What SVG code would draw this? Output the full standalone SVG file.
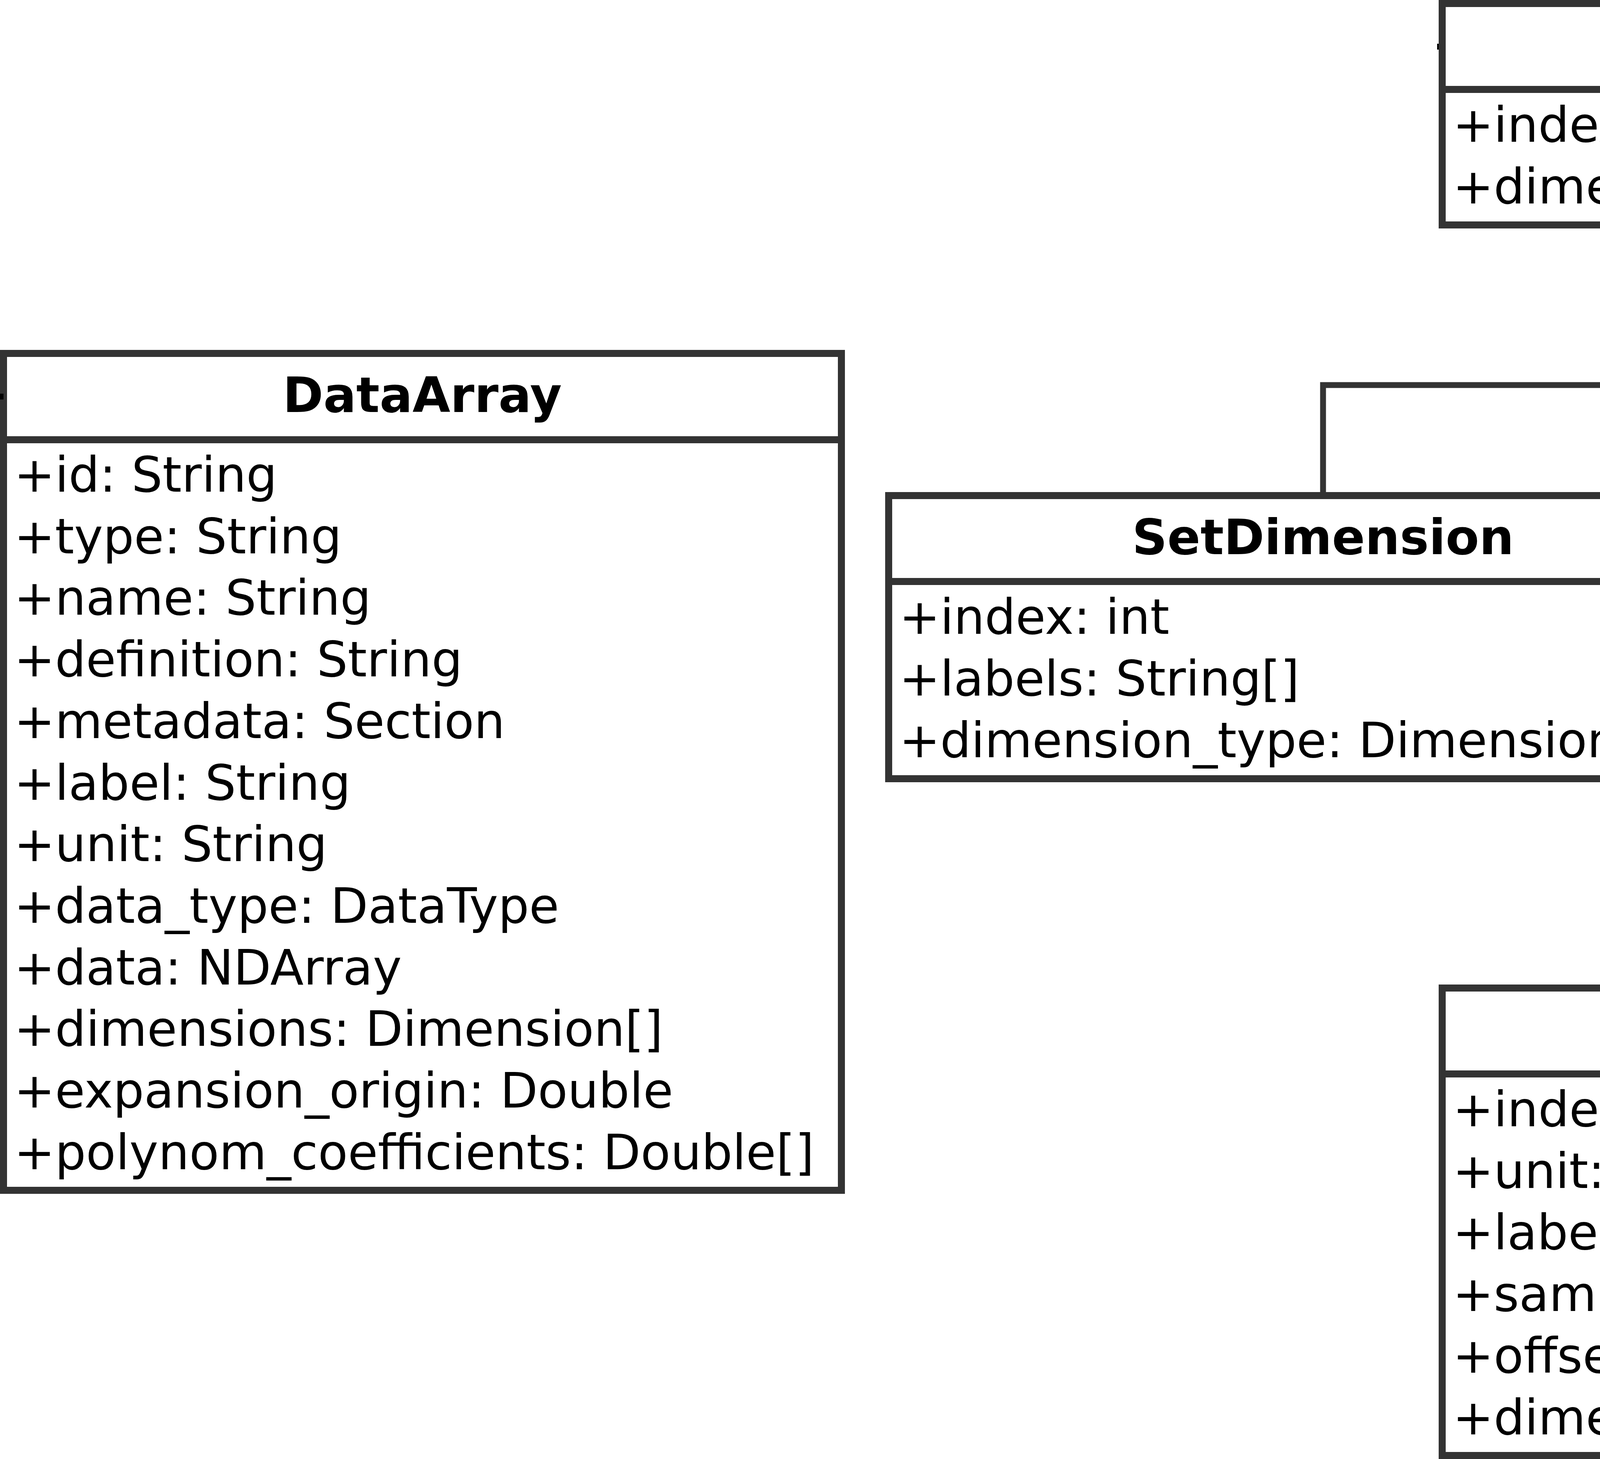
<svg xmlns="http://www.w3.org/2000/svg" width="7343" height="3736" viewBox="0 0 7343 3736">
<style>
.box{fill:#ffffff;stroke:#333333;stroke-width:18}
.sep{stroke:#333333;stroke-width:18;fill:none}
.edge{fill:none;stroke:#333333;stroke-width:15;stroke-linejoin:miter}
.tri{fill:#ffffff;stroke:#333333;stroke-width:15;stroke-linejoin:miter}
.title{font-family:"DejaVu Sans","Liberation Sans",sans-serif;font-size:125px;font-weight:bold;text-anchor:middle;fill:#000000}
.attr{font-family:"DejaVu Sans","Liberation Sans",sans-serif;font-size:125px;fill:#000000}
.tick{fill:#000000}
</style>
<rect width="7343" height="3736" fill="#ffffff"/>
<g id="connectors">
<path class="edge" d="M4805,2530 L4805,720"/>
<path class="edge" d="M3387,1269 L3387,986 L4805,986 L4805,720"/>
<path class="edge" d="M6222,1269 L6222,986 L4805,986"/>
<polygon class="tri" points="4805,600 4742,720 4868,720"/>
</g>
<g id="DataArray">
<rect class="box" x="9" y="905" width="2145" height="2143"/>
<line class="sep" x1="9" y1="1126" x2="2154" y2="1126"/>
<text class="title" x="1081" y="1055">DataArray</text>
<text class="attr" x="36" y="1259">+id: String</text>
<text class="attr" x="36" y="1417">+type: String</text>
<text class="attr" x="36" y="1574">+name: String</text>
<text class="attr" x="36" y="1732">+definition: String</text>
<text class="attr" x="36" y="1890">+metadata: Section</text>
<text class="attr" x="36" y="2048">+label: String</text>
<text class="attr" x="36" y="2205">+unit: String</text>
<text class="attr" x="36" y="2363">+data_type: DataType</text>
<text class="attr" x="36" y="2521">+data: NDArray</text>
<text class="attr" x="36" y="2678">+dimensions: Dimension[]</text>
<text class="attr" x="36" y="2836">+expansion_origin: Double</text>
<text class="attr" x="36" y="2994">+polynom_coefficients: Double[]</text>
</g>
<g id="Dimension">
<rect class="box" x="3692" y="9" width="2224" height="567"/>
<line class="sep" x1="3692" y1="229" x2="5916" y2="229"/>
<text class="title" x="4804" y="160">Dimension</text>
<text class="attr" x="3719" y="363">+index: int</text>
<text class="attr" x="3719" y="521">+dimension_type: DimensionType</text>
</g>
<g id="SetDimension">
<rect class="box" x="2275" y="1269" width="2224" height="725"/>
<line class="sep" x1="2275" y1="1489" x2="4499" y2="1489"/>
<text class="title" x="3387" y="1419">SetDimension</text>
<text class="attr" x="2302" y="1623">+index: int</text>
<text class="attr" x="2302" y="1781">+labels: String[]</text>
<text class="attr" x="2302" y="1939">+dimension_type: DimensionType</text>
</g>
<g id="RangeDimension">
<rect class="box" x="5110" y="1269" width="2224" height="1039"/>
<line class="sep" x1="5110" y1="1489" x2="7334" y2="1489"/>
<text class="title" x="6222" y="1419">RangeDimension</text>
<text class="attr" x="5137" y="1623">+index: int</text>
<text class="attr" x="5137" y="1781">+unit: String</text>
<text class="attr" x="5137" y="1938">+label: String</text>
<text class="attr" x="5137" y="2096">+ticks: double[]</text>
<text class="attr" x="5137" y="2254">+dimension_type: DimensionType</text>
</g>
<g id="SampledDimension">
<rect class="box" x="3692" y="2530" width="2224" height="1197"/>
<line class="sep" x1="3692" y1="2750" x2="5916" y2="2750"/>
<text class="title" x="4804" y="2680">SampledDimension</text>
<text class="attr" x="3719" y="2884">+index: int</text>
<text class="attr" x="3719" y="3042">+unit: String</text>
<text class="attr" x="3719" y="3199">+label: String</text>
<text class="attr" x="3719" y="3357">+sampling_interval: double</text>
<text class="attr" x="3719" y="3515">+offset: double</text>
<text class="attr" x="3719" y="3673">+dimension_type: DimensionType</text>
</g>
<g id="marks">
<rect class="tick" x="0" y="1008" width="9" height="15"/>
<rect class="tick" x="3679" y="112" width="4" height="15"/>
</g>
</svg>
